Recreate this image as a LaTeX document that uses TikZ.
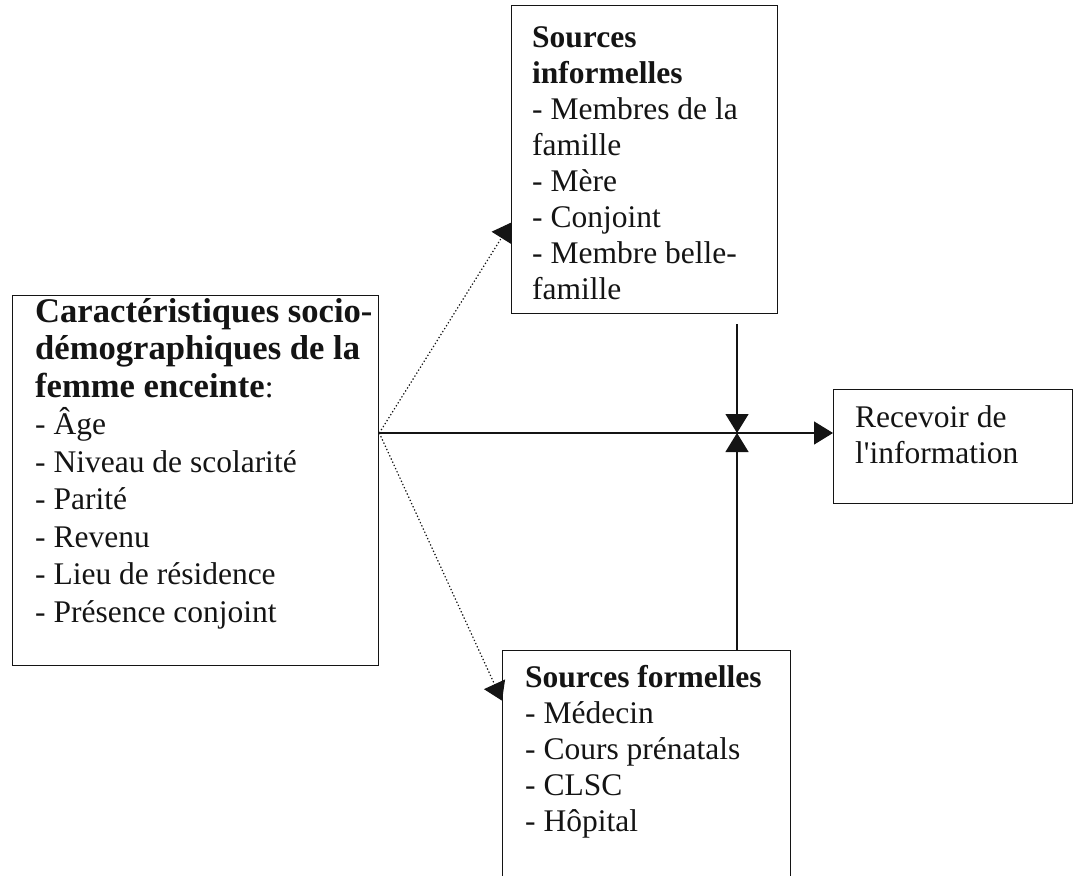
\documentclass[tikz,border=0pt]{standalone}
\usepackage{fontspec}
\setmainfont{Liberation Serif}
\usepackage{xcolor}
\usepackage{tikz}
\usetikzlibrary{calc,arrows.meta}
\definecolor{scanInk}{RGB}{20,20,20}
\newcommand{\headtxt}[1]{{\fontsize{34.6}{37.5}\selectfont\textbf{#1}}}

\tikzset{
    frame/.style={draw=scanInk, line width=1.3pt, inner sep=0pt, anchor=north west},
    boxtext/.style={text=scanInk, inner sep=0pt, anchor=north west, align=left,
        font=\fontsize{31.5}{36}\selectfont},
    flow/.style={draw=scanInk, line width=1.3pt, -{Triangle[length=19pt,width=23pt]}},
    hint/.style={draw=scanInk, line width=1.2pt, dash pattern=on 1.3pt off 2.2pt,
        -{Triangle[length=18pt,width=23pt]}}
}

\begin{document}
\begin{tikzpicture}[x=1pt, y=-1pt]
    \clip (0,0) rectangle (1083,875);

    % frames
    \node[frame, minimum width=366pt, minimum height=370pt] (socio) at (12,295) {};
    \node[frame, minimum width=266pt, minimum height=308pt] (informel) at (511,5) {};
    \node[frame, minimum width=288pt, minimum height=240pt] (formel) at (502,650) {};
    \node[frame, minimum width=239pt, minimum height=114pt] (info) at (833,389) {};

    % texts
    \node[boxtext, font=\fontsize{31.5}{37.5}\selectfont] (socioTxt) at (35,295.75)
        {\strut\headtxt{Caractéristiques socio-}\\
        \headtxt{démographiques de la}\\ \headtxt{femme enceinte}:\\ - Âge\\
        - Niveau de scolarité\\ - Parité\\ - Revenu\\ - Lieu de résidence\\
        - Présence conjoint};
    \node[boxtext] (informelTxt) at (532,21.8) {\strut\textbf{Sources}\\
        \textbf{informelles}\\ - Membres de la\\ famille\\ - Mère\\ - Conjoint\\
        - Membre belle-\\ famille};
    \node[boxtext] (formelTxt) at (525,661.8) {\strut\textbf{Sources formelles}\\
        - Médecin\\ - Cours prénatals\\ - CLSC\\ - Hôpital};
    \node[boxtext] (infoTxt) at (855,401.8) {\strut Recevoir de\\ l\textquotesingle information};

    % junction of the three arrows
    \coordinate (hub) at (737,433);
    \coordinate (src) at (socio.east |- hub);

    % arrows
    \draw[flow] (src) -- (info.west |- hub);
    \draw[flow] ([yshift=-10pt]informel.south -| hub) -- (hub);
    \draw[flow] (formel.north -| hub) -- (hub);
    \draw[hint] (src) -- ([yshift=-63pt]informel.west);
    \draw[hint] (src) -- ([yshift=70pt]formel.west);
\end{tikzpicture}
\end{document}
